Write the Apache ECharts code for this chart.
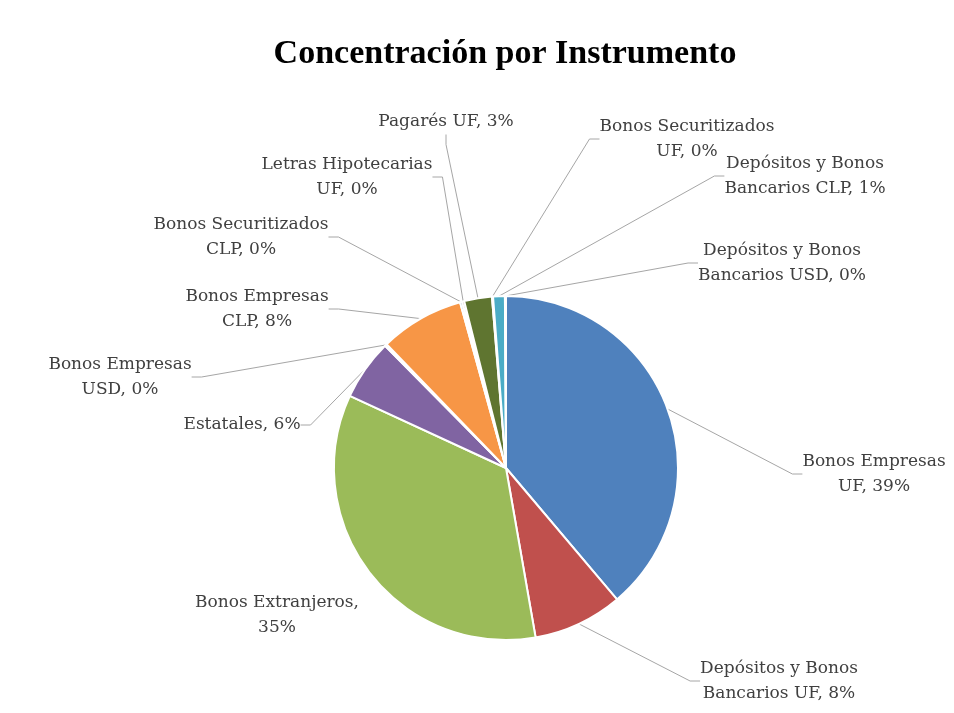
<!DOCTYPE html>
<html>
<head>
<meta charset="utf-8">
<script src="https://cdn.jsdelivr.net/npm/echarts@6/dist/echarts.min.js"></script>
<style>
  html, body { margin: 0; padding: 0; background: #fff; }
  #chart { width: 954px; height: 713px; }
</style>
</head>
<body>
<div id="chart"></div>
<script>
// categories, clockwise from 12 o'clock
const categories = [
  'Bonos Empresas UF',
  'Depósitos y Bonos Bancarios UF',
  'Bonos Extranjeros',
  'Estatales',
  'Bonos Empresas USD',
  'Bonos Empresas CLP',
  'Bonos Securitizados CLP',
  'Letras Hipotecarias UF',
  'Pagarés UF',
  'Bonos Securitizados UF',
  'Depósitos y Bonos Bancarios CLP',
  'Depósitos y Bonos Bancarios USD'
]
// share of portfolio (%)
const shares = [38.8, 8.4, 34.6, 5.7, 0.2, 7.9, 0.2, 0.2, 2.6, 0.1, 1.1, 0.1]

// label text, {p} = rounded percent
const labelTemplates = [
  'Bonos Empresas\nUF, {p}%',
  'Depósitos y Bonos\nBancarios UF, {p}%',
  'Bonos Extranjeros,\n{p}%',
  'Estatales, {p}%',
  'Bonos Empresas\nUSD, {p}%',
  'Bonos Empresas\nCLP, {p}%',
  'Bonos Securitizados\nCLP, {p}%',
  'Letras Hipotecarias\nUF, {p}%',
  'Pagarés UF, {p}%',
  'Bonos Securitizados\nUF, {p}%',
  'Depósitos y Bonos\nBancarios CLP, {p}%',
  'Depósitos y Bonos\nBancarios USD, {p}%'
]

const colors = [
  '#4f81bd', '#c0504d', '#9bbb59', '#8064a2', '#4bacc6', '#f79646',
  '#2c4d75', '#772c2a', '#5f7530', '#4d3b62', '#4bacc6', '#b65708'
]

// label anchor (center of text block) in px
const labelPos = [
  [874, 474], [779, 681], [277, 615], [242, 425], [120, 377], [257, 309],
  [241, 237], [347, 177], [446, 122], [687, 139], [805, 176], [782, 263]
]

const total = shares.reduce((a, b) => a + b, 0)

const chart = echarts.init(document.getElementById('chart'))

chart.setOption({
  backgroundColor: '#fff',
  animation: false,
  title: {
    text: 'Concentración por Instrumento',
    left: 500,
    textAlign: 'center',
    top: 32,
    textStyle: {
      fontFamily: 'Liberation Serif',
      fontSize: 34,
      fontWeight: 'bold',
      color: '#000'
    }
  },
  series: [
    {
      type: 'pie',
      center: [506, 468],
      radius: 172,
      startAngle: 90,
      clockwise: true,
      color: colors,
      itemStyle: { borderColor: '#fff', borderWidth: 2 },
      label: {
        show: true,
        position: 'outside',
        fontFamily: 'DejaVu Serif',
        fontSize: 17,
        lineHeight: 25,
        color: '#404040',
        align: 'center',
        formatter: (p) => labelTemplates[p.dataIndex].replace('{p}', Math.round(p.value / total * 100))
      },
      labelLine: {
        show: true,
        length: 10,
        length2: 10,
        lineStyle: { color: '#a6a6a6', width: 1 }
      },
      labelLayout: (params) => {
        const pos = labelPos[params.dataIndex]
        return {
          x: pos[0],
          y: pos[1],
          align: 'center',
          verticalAlign: 'middle'
        }
      },
      data: categories.map((name, i) => ({
        name: name,
        value: shares[i],
        labelLine: i === 2 ? { show: false } : undefined
      }))
    }
  ]
})
</script>
</body>
</html>
